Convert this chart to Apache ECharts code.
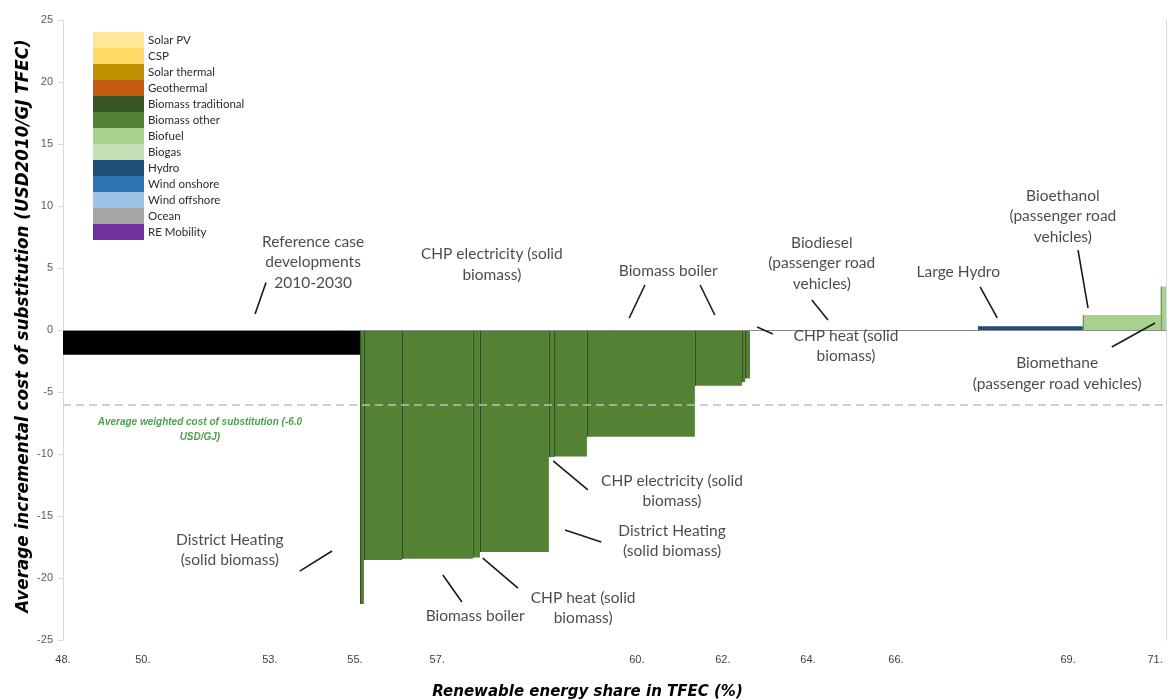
<!DOCTYPE html>
<html>
<head>
<meta charset="utf-8">
<script src="https://cdn.jsdelivr.net/npm/echarts@6/dist/echarts.min.js"></script>
<style>
  html, body { margin: 0; padding: 0; background: #fff; }
  #chart { width: 1172px; height: 700px; }
</style>
</head>
<body>
<div id="chart"></div>
<script>
// Cost-of-substitution supply curve: each option is a step whose width is the
// added renewable share (percentage points of TFEC) and whose height is its cost.
const startShare = 48;

const optionNames = [
  'Reference case developments 2010-2030',
  'District heating (solid biomass)',
  'CHP electricity (solid biomass)',
  'Biomass boiler',
  'CHP heat (solid biomass)',
  'District heating (solid biomass)',
  'CHP electricity (solid biomass)',
  'CHP electricity (solid biomass)',
  'Biomass boiler',
  'Biomass boiler',
  'CHP heat (solid biomass)',
  'CHP heat (solid biomass)',
  'Biodiesel (passenger road vehicles)',
  'Large hydro',
  'Bioethanol (passenger road vehicles)',
  'Biomethane (passenger road vehicles)'
];
const optionTech = [
  'Reference', 'Biomass other', 'Biomass other', 'Biomass other', 'Biomass other',
  'Biomass other', 'Biomass other', 'Biomass other', 'Biomass other', 'Biomass other',
  'Biomass other', 'Biomass other', 'Biofuel', 'Hydro', 'Biofuel', 'Biofuel'
];
// share added by each option (percentage points)
const optionWidths = [6.25, 0.08, 0.80, 1.49, 0.15, 1.45, 0.11, 0.69, 2.27, 0.99, 0.07, 0.10, 4.80, 2.20, 1.64, 0.11];
// average incremental cost (USD2010/GJ TFEC)
const optionCosts = [-2.0, -22.1, -18.55, -18.45, -18.35, -17.9, -10.25, -10.2, -8.6, -4.5, -4.2, -3.9, 0.0, 0.3, 1.2, 3.5];

const averageCost = -6.0;

const legendNames = ['Solar PV', 'CSP', 'Solar thermal', 'Geothermal', 'Biomass traditional',
  'Biomass other', 'Biofuel', 'Biogas', 'Hydro', 'Wind onshore', 'Wind offshore', 'Ocean', 'RE Mobility'];
const legendColors = ['#FFE699', '#FFD966', '#BF9000', '#C55A11', '#375623',
  '#548235', '#A9D18E', '#C5E0B4', '#1F4E79', '#2E75B6', '#9DC3E6', '#A5A5A5', '#7030A0'];
const edgeColors = { 'Biomass other': '#2E4A1D', 'Biofuel': '#5E8C3E', 'Hydro': '#163A5C', 'Reference': '#000000' };

// x-axis tick positions (share) and their printed labels
const xTickValues = [48.0, 49.68, 52.35, 54.14, 55.87, 60.07, 61.88, 63.67, 65.52, 69.14, 70.97];
const xTickLabels = ['48.', '50.', '53.', '55.', '57.', '60.', '62.', '64.', '66.', '69.', '71.'];

// callout texts: [share, cost] of the text centre
const calloutTexts = [
  'Reference case\ndevelopments\n2010-2030',
  'CHP electricity (solid\nbiomass)',
  'Biomass boiler',
  'Biodiesel\n(passenger road\nvehicles)',
  'Large Hydro',
  'Bioethanol\n(passenger road\nvehicles)',
  'Biomethane\n(passenger road vehicles)',
  'CHP heat (solid\nbiomass)',
  'CHP electricity (solid\nbiomass)',
  'District Heating\n(solid biomass)',
  'CHP heat (solid\nbiomass)',
  'Biomass boiler',
  'District Heating\n(solid biomass)'
];
const calloutAt = [
  [53.26, 5.48], [57.02, 5.28], [60.73, 4.76], [63.96, 5.40], [66.83, 4.68],
  [69.03, 9.19], [68.91, -3.51], [64.47, -1.29], [60.81, -12.98], [60.81, -17.02],
  [58.94, -22.42], [56.67, -23.06], [51.51, -17.74]
];
// leader lines from callouts to steps: [[share, cost], [share, cost]]
const leaderLines = [
  [[52.04, 1.29], [52.27, 3.83]],
  [[59.91, 0.97], [60.24, 3.63]],
  [[61.40, 3.63], [61.71, 1.21]],
  [[63.75, 2.42], [64.09, 0.81]],
  [[67.29, 3.47], [67.65, 0.97]],
  [[69.35, 6.45], [69.56, 1.77]],
  [[70.06, -1.37], [70.97, 0.56]],
  [[62.60, 0.24], [62.93, -0.32]],
  [[58.31, -10.56], [59.04, -12.90]],
  [[58.56, -16.13], [59.32, -17.10]],
  [[56.83, -18.39], [57.57, -20.81]],
  [[55.99, -19.76], [56.39, -21.94]],
  [[52.98, -19.44], [53.66, -17.82]]
];
const averageText = 'Average weighted cost of substitution (-6.0\nUSD/GJ)';
const averageTextAt = [50.88, -8.02];

// build the step segments [from, to, cost]
const segments = [];
let acc = startShare;
optionWidths.forEach((w, i) => {
  segments.push({ from: acc, to: acc + w, cost: optionCosts[i], tech: optionTech[i], name: optionNames[i] });
  acc += w;
});

function stepRenderer(edge) {
  return function (params, api) {
    const x0 = api.value(0), x1 = api.value(1), v = api.value(2);
    const a = api.coord([x0, 0]);
    const b = api.coord([x1, v]);
    const top = Math.min(a[1], b[1]);
    const h = Math.abs(a[1] - b[1]);
    const children = [{
      type: 'rect',
      shape: { x: a[0], y: top, width: b[0] - a[0], height: h },
      style: { fill: api.visual('color') }
    }];
    if (edge && h > 0) {
      children.push({
        type: 'line',
        shape: { x1: a[0] + 0.5, y1: top, x2: a[0] + 0.5, y2: top + h },
        style: { stroke: edge, lineWidth: 1 }
      });
    }
    return { type: 'group', children: children };
  };
}

function segData(tech) {
  return segments.filter(s => s.tech === tech).map(s => ({ name: s.name, value: [s.from, s.to, s.cost] }));
}

const series = [];
series.push({
  name: 'Reference case developments 2010-2030',
  type: 'custom',
  renderItem: stepRenderer(null),
  itemStyle: { color: '#000000' },
  encode: { x: [0, 1], y: 2 },
  data: segData('Reference'),
  z: 3,
  markLine: {
    silent: true,
    symbol: 'none',
    label: { show: false },
    data: [
      { yAxis: 0, lineStyle: { color: '#8C8C8C', width: 1, type: 'solid' } },
      { yAxis: averageCost, lineStyle: { color: '#BFBFBF', width: 1.5, type: [8, 5] } }
    ]
  }
});
legendNames.forEach((name, i) => {
  series.push({
    name: name,
    type: 'custom',
    renderItem: stepRenderer(edgeColors[name] || null),
    itemStyle: { color: legendColors[i] },
    encode: { x: [0, 1], y: 2 },
    data: segData(name),
    z: 3
  });
});

const calloutStyle = {
  show: true, position: 'inside', align: 'center', verticalAlign: 'middle',
  fontFamily: 'Lato', fontSize: 15.5, lineHeight: 20.5, color: '#1C1C1C'
};
series.push({
  name: 'callouts',
  type: 'scatter',
  symbolSize: 0,
  silent: true,
  z: 5,
  label: calloutStyle,
  data: calloutTexts.map((t, i) => ({ value: calloutAt[i], label: { formatter: t } })).concat([{
    value: averageTextAt,
    label: {
      formatter: averageText, fontFamily: 'Liberation Sans', fontWeight: 'bold',
      fontStyle: 'italic', fontSize: 10, lineHeight: 15, color: '#1F8A1F'
    }
  }])
});
series.push({
  name: 'leaders',
  type: 'lines',
  coordinateSystem: 'cartesian2d',
  silent: true,
  z: 5,
  lineStyle: { color: '#1A1A1A', width: 1.6, opacity: 1 },
  data: leaderLines.map(c => ({ coords: c }))
});

const chart = echarts.init(document.getElementById('chart'));
chart.setOption({
  animation: false,
  backgroundColor: '#ffffff',
  grid: { left: 63, right: 6, top: 20, bottom: 60, containLabel: false, outerBoundsMode: 'none' },
  legend: {
    data: legendNames,
    orient: 'vertical',
    left: 93,
    top: 32,
    padding: 0,
    itemWidth: 51,
    itemHeight: 16,
    itemGap: 0,
    icon: 'rect',
    selectedMode: false,
    textStyle: { fontFamily: 'Lato', fontSize: 11.5, color: '#2B2B2B', padding: [0, 0, 0, -1] }
  },
  xAxis: {
    type: 'value',
    min: startShare,
    max: 71.2,
    name: 'Renewable energy share in TFEC (%)',
    nameLocation: 'middle',
    nameGap: 45,
    nameMoveOverlap: false,
    nameTextStyle: {
      fontFamily: 'DejaVu Sans', fontWeight: 'bold', fontStyle: 'italic', fontSize: 15, color: '#000',
      padding: [0, 54, 0, 0]
    },
    axisLine: { show: true, lineStyle: { color: '#E3E3E3', width: 1 } },
    axisTick: { show: false },
    splitLine: { show: false },
    axisLabel: {
      customValues: xTickValues,
      formatter: v => {
        const i = xTickValues.findIndex(t => Math.abs(t - v) < 1e-6);
        return i >= 0 ? xTickLabels[i] : '';
      },
      margin: 14,
      fontFamily: 'Liberation Sans',
      fontSize: 11,
      color: '#404040'
    }
  },
  yAxis: [{
    type: 'value',
    min: -25,
    max: 25,
    interval: 5,
    name: 'Average incremental cost of substitution (USD2010/GJ TFEC)',
    nameLocation: 'middle',
    nameRotate: 90,
    nameGap: 31,
    nameMoveOverlap: false,
    nameTextStyle: {
      fontFamily: 'DejaVu Sans', fontWeight: 'bold', fontStyle: 'italic', fontSize: 16.8, color: '#000',
      padding: [0, 0, 0, 8]
    },
    axisLine: { show: true, lineStyle: { color: '#D9D9D9', width: 1 } },
    axisTick: { show: true, length: 5, lineStyle: { color: '#D9D9D9' } },
    splitLine: { show: false },
    axisLabel: { margin: 10, fontFamily: 'Liberation Sans', fontSize: 11, color: '#595959' }
  }, {
    type: 'value',
    min: -25,
    max: 25,
    interval: 5,
    position: 'right',
    axisLine: { show: true, lineStyle: { color: '#D9D9D9', width: 1 } },
    axisTick: { show: false },
    axisLabel: { show: false },
    splitLine: { show: false }
  }],
  series: series
});
</script>
</body>
</html>
